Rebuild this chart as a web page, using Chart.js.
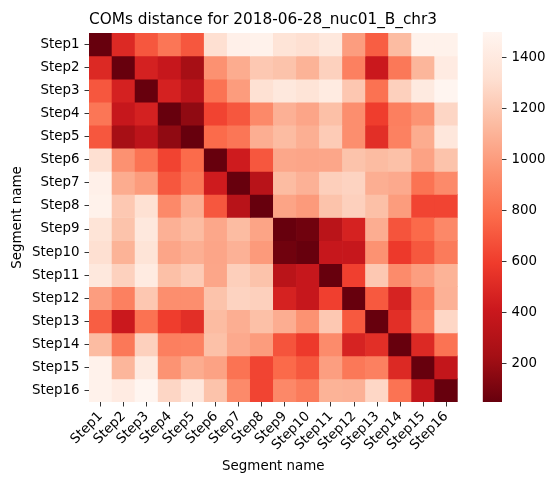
<!DOCTYPE html>
<html>
<head>
<meta charset="utf-8">
<script src="https://cdn.jsdelivr.net/npm/chart.js@4"></script>
<style>
html, body { margin: 0; padding: 0; background: #fff; }
#wrap { position: relative; width: 556px; height: 486px; }
#heat { position: absolute; left: 0; top: 0; }
#cbar { position: absolute; left: 470px; top: 0; }
</style>
</head>
<body>
<div id="wrap">
  <canvas id="heat" width="546" height="486"></canvas>
  <canvas id="cbar" width="86" height="486"></canvas>
</div>
<script>
// segment names, used for both axes
const steps = ["Step1", "Step2", "Step3", "Step4", "Step5", "Step6", "Step7", "Step8",
               "Step9", "Step10", "Step11", "Step12", "Step13", "Step14", "Step15", "Step16"];

// COM distances, row = y step, column = x step
const distances = [
  [50, 500, 700, 830, 700, 1320, 1460, 1470, 1350, 1320, 1385, 1005, 730, 1140, 1470, 1470],
  [500, 50, 460, 390, 240, 950, 1070, 1200, 1175, 1100, 1245, 875, 410, 840, 1115, 1415],
  [700, 460, 50, 460, 340, 815, 1000, 1325, 1385, 1350, 1410, 1195, 810, 1240, 1405, 1500],
  [830, 390, 460, 50, 170, 625, 700, 915, 1090, 1040, 1160, 940, 600, 870, 960, 1270],
  [700, 240, 340, 170, 50, 780, 830, 1080, 1140, 1085, 1215, 940, 530, 880, 1070, 1380],
  [1320, 950, 815, 625, 780, 50, 430, 700, 1050, 1040, 1045, 1175, 1140, 1165, 1025, 1175],
  [1460, 1070, 1000, 700, 830, 430, 50, 320, 1140, 1095, 1235, 1255, 1080, 1060, 815, 920],
  [1470, 1200, 1325, 915, 1080, 700, 320, 50, 1035, 990, 1175, 1240, 1160, 1000, 630, 630],
  [1350, 1175, 1385, 1090, 1140, 1050, 1140, 1035, 50, 75, 330, 465, 1075, 690, 775, 910],
  [1320, 1100, 1350, 1040, 1085, 1040, 1095, 990, 75, 50, 390, 390, 955, 585, 705, 850],
  [1385, 1245, 1410, 1160, 1215, 1045, 1235, 1175, 330, 390, 50, 610, 1200, 925, 1010, 1100],
  [1005, 875, 1195, 940, 940, 1175, 1255, 1240, 465, 390, 610, 50, 710, 470, 840, 1095],
  [730, 410, 810, 600, 530, 1140, 1080, 1160, 1075, 955, 1200, 710, 50, 530, 875, 1275],
  [1140, 840, 1240, 870, 880, 1165, 1060, 1000, 690, 585, 925, 470, 530, 50, 500, 815],
  [1470, 1115, 1405, 960, 1070, 1025, 815, 630, 775, 705, 1010, 840, 875, 500, 50, 375],
  [1470, 1415, 1500, 1270, 1380, 1175, 920, 630, 910, 850, 1100, 1095, 1275, 815, 375, 50]
];

const cbTicks = [200, 400, 600, 800, 1000, 1200, 1400];

const vmin = Math.min(...distances.flat());
const vmax = Math.max(...distances.flat());

// matplotlib "Reds", light -> dark
const reds = ["#fff5f0", "#fee0d2", "#fcbba1", "#fc9272", "#fb6a4a", "#ef3b2c", "#cb181d", "#a50f15", "#67000d"];
const rgb = h => [1, 3, 5].map(k => parseInt(h.slice(k, k + 2), 16));

// Reds_r: low distance = dark
function redsR(v) {
  const t = (v - vmin) / (vmax - vmin);
  const p = (1 - t) * 8;
  const i = Math.min(7, Math.floor(p));
  const f = p - i;
  const a = rgb(reds[i]), b = rgb(reds[i + 1]);
  const c = a.map((x, k) => Math.round(x + (b[k] - x) * f));
  return `rgb(${c[0]},${c[1]},${c[2]})`;
}

const font = { family: "'DejaVu Sans', sans-serif", size: 13.4 };
const black = "#000";

// one floating bar per cell, one dataset per row
const datasets = distances.map((row, i) => ({
  data: steps.map(() => [i, i + 1]),
  backgroundColor: row.map(redsR),
  borderWidth: 0,
  grouped: false,
  barPercentage: 1,
  categoryPercentage: 1
}));

new Chart(document.getElementById("heat"), {
  type: "bar",
  data: { labels: steps, datasets: datasets },
  options: {
    responsive: false,
    animation: false,
    layout: { padding: { left: 0, right: 88.3, top: 0, bottom: 0 } },
    plugins: {
      legend: { display: false },
      tooltip: { enabled: false },
      title: {
        display: true,
        fullSize: false,
        align: "start",
        text: "COMs distance for 2018-06-28_nuc01_B_chr3",
        color: black,
        font: { family: font.family, size: 15.3, weight: "normal" },
        padding: { top: 11, bottom: 3.6 }
      }
    },
    scales: {
      x: {
        type: "category",
        afterFit: s => { s.height = 84; },
        grid: { offset: false, drawOnChartArea: false, tickLength: 4.5, color: black, lineWidth: 0.8 },
        border: { display: false },
        ticks: { color: black, font: font, maxRotation: 45, minRotation: 45, autoSkip: false, padding: 2 },
        title: { display: true, text: "Segment name", color: black, font: font, padding: { top: 0, bottom: 11 } }
      },
      y: {
        type: "linear",
        reverse: true,
        min: 0,
        max: steps.length,
        afterBuildTicks: s => { s.ticks = steps.map((_, i) => ({ value: i + 0.5 })); },
        afterFit: s => { s.width = 89; },
        grid: { drawOnChartArea: false, tickLength: 4.5, color: black, lineWidth: 0.8 },
        border: { display: false },
        ticks: { color: black, font: font, autoSkip: false, padding: 5, callback: (v, i) => steps[i] },
        title: { display: true, text: "Segment name", color: black, font: font, padding: { top: 9, bottom: 0 } }
      }
    }
  }
});

// colour bar
new Chart(document.getElementById("cbar"), {
  type: "bar",
  data: {
    labels: [""],
    datasets: [{
      data: [[vmin, vmax]],
      borderWidth: 0,
      barPercentage: 1,
      categoryPercentage: 1,
      backgroundColor: ctx => {
        const area = ctx.chart.chartArea;
        if (!area) return reds[4];
        const g = ctx.chart.ctx.createLinearGradient(0, area.bottom, 0, area.top);
        reds.forEach((_, i) => g.addColorStop(i / 8, reds[8 - i]));
        return g;
      }
    }]
  },
  options: {
    responsive: false,
    animation: false,
    layout: { padding: { left: 12.7, right: 0, top: 32, bottom: 84 } },
    plugins: { legend: { display: false }, tooltip: { enabled: false } },
    scales: {
      x: { display: false },
      y: {
        position: "right",
        min: vmin,
        max: vmax,
        afterBuildTicks: s => { s.ticks = cbTicks.map(v => ({ value: v })); },
        afterFit: s => { s.width = 54; },
        grid: { drawOnChartArea: false, tickLength: 4.5, color: black, lineWidth: 0.8 },
        border: { display: false },
        ticks: { color: black, font: font, padding: 5, callback: v => String(v) }
      }
    }
  }
});
</script>
</body>
</html>
